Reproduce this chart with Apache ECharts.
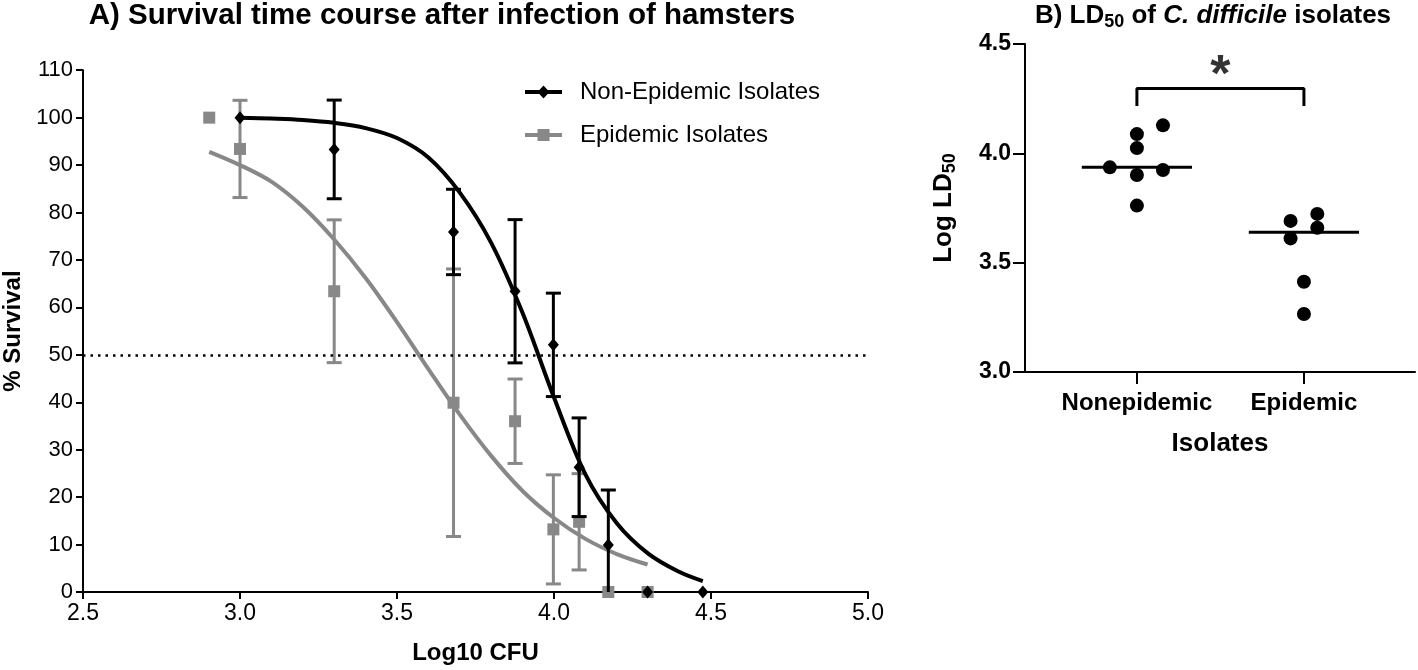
<!DOCTYPE html>
<html><head><meta charset="utf-8">
<script src="https://cdn.jsdelivr.net/npm/echarts@6/dist/echarts.min.js"></script>
<style>html,body{margin:0;padding:0;background:#fff}#c{width:1418px;height:670px}</style>
</head><body><div id="c"></div>
<script>
// ---------- Panel A: survival vs dose ----------
const nonEpiDose = [3.0, 3.3, 3.68, 3.876, 3.998, 4.08, 4.173, 4.298, 4.474];
const nonEpiSurv = [100, 93.3, 75.9, 63.4, 52.1, 26.3, 9.9, 0, 0];
const nonEpiSem  = [0, 10.4, 9.0, 15.1, 10.9, 10.4, 11.6, 0, 0];

const epiDose = [2.902, 3.0, 3.3, 3.68, 3.876, 3.998, 4.08, 4.173, 4.298];
const epiSurv = [100, 93.4, 63.4, 39.9, 36.0, 13.2, 14.8, 0, 0];
const epiSem  = [0, 10.25, 15.05, 28.2, 8.9, 11.5, 10.15, 0, 0];

// fitted curves
const nonEpiFitX = [3.0, 3.1, 3.2, 3.3, 3.4, 3.5, 3.6, 3.7, 3.8, 3.9, 4.0, 4.1, 4.2, 4.3, 4.4, 4.474];
const nonEpiFitY = [100.0, 99.8, 99.5, 98.9, 97.8, 95.7, 91.6, 84.2, 73.6, 58.8, 41.0, 24.8, 14.5, 8.1, 4.2, 2.3];
const epiFitX = [2.902, 3.0, 3.1, 3.2, 3.3, 3.4, 3.5, 3.6, 3.7, 3.8, 3.9, 4.0, 4.1, 4.2, 4.298];
const epiFitY = [92.8, 90.0, 86.5, 81.2, 74.3, 66.2, 56.9, 47.0, 37.4, 28.7, 21.3, 15.6, 11.2, 8.0, 5.8];

const refLine50 = 50;
const xTicksA = [2.5, 5.0, 0.5];   // min, max, step
const yTicksA = [0, 110, 10];

// ---------- Panel B: LD50 ----------
const groupsB = ['Nonepidemic', 'Epidemic'];
const nonEpiLD50 = [4.128, 4.088, 4.024, 3.936, 3.924, 3.901, 3.761];
const epiLD50    = [3.723, 3.691, 3.660, 3.611, 3.413, 3.265];
const mediansB   = [3.936, 3.639];
const yTicksB = [3.0, 4.5, 0.5];
const bracketX = [1, 1, 2, 2];
const bracketY = [4.216, 4.296, 4.296, 4.216];
const sigLabel = '*';

// layout-only: horizontal scatter offsets of the dot plot
const nonEpiJitter = [0.156, 0, 0, -0.162, 0.156, 0, 0];
const epiJitter    = [0.08, -0.08, 0.08, -0.08, 0, 0];

const F = 'Liberation Sans, Arial, Helvetica, sans-serif';
const BLACK = '#000000';
const GRAY = '#888888';

function errBar(color, capHalf) {
  return function (params, api) {
    const x = api.value(0), y = api.value(1), e = api.value(2);
    if (!e) return;
    const lowV = y - e;
    const top = api.coord([x, y + e]);
    const bot = api.coord([x, Math.max(0, lowV)]);
    const st = { stroke: color, lineWidth: 3 };
    const ch = [
      { type: 'line', shape: { x1: top[0], y1: top[1], x2: bot[0], y2: bot[1] }, style: st },
      { type: 'line', shape: { x1: top[0] - capHalf, y1: top[1], x2: top[0] + capHalf, y2: top[1] }, style: st }
    ];
    if (lowV >= 0) ch.push({ type: 'line', shape: { x1: bot[0] - capHalf, y1: bot[1], x2: bot[0] + capHalf, y2: bot[1] }, style: st });
    return { type: 'group', children: ch };
  };
}

const chart = echarts.init(document.getElementById('c'), null, { renderer: 'canvas' });

const subStyle = { fontSize: 18, fontWeight: 'bold', fontFamily: F, lineHeight: 18, padding: [16, 0, 0, 0], verticalAlign: 'bottom', fill: '#000' };
const mainStyle = { fontSize: 26, fontWeight: 'bold', fontFamily: F, lineHeight: 28, verticalAlign: 'top', fill: '#000' };

const option = {
  animation: false,
  backgroundColor: '#ffffff',
  textStyle: { fontFamily: F },
  graphic: [
    { type: 'text', style: { x: 442, y: 16, text: 'A) Survival time course after infection of hamsters', font: 'bold 29.5px ' + F, fill: '#000', align: 'center', verticalAlign: 'middle' } },
    { type: 'text', style: { x: 1213, y: 3, align: 'center', verticalAlign: 'top', fill: '#000',
        text: '{m|B) LD}{sub|50}{m| of }{it|C. difficile}{m| isolates}',
        rich: { m: mainStyle, it: Object.assign({}, mainStyle, { fontStyle: 'italic' }), sub: subStyle } } },
    { type: 'text', x: 945, y: 208, rotation: Math.PI / 2, style: { x: 0, y: 0, align: 'center', verticalAlign: 'middle', fill: '#000',
        text: '{m|Log LD}{sub|50}',
        rich: { m: mainStyle, sub: subStyle } } }
  ],
  legend: {
    left: 520, top: 75, orient: 'vertical', itemGap: 19,
    itemWidth: 37, itemHeight: 13, selectedMode: false,
    textStyle: { fontSize: 24, fontFamily: F, color: '#000', padding: [0, 0, 0, 13] },
    data: [
      { name: 'Non-Epidemic Isolates', icon: 'path://M0,4.5 L37,4.5 L37,8.5 L0,8.5 Z M18.5,0 L24.5,6.5 L18.5,13 L12.5,6.5 Z' },
      { name: 'Epidemic Isolates', icon: 'path://M0,4.5 L37,4.5 L37,8.5 L0,8.5 Z M12.5,0.5 L24.5,0.5 L24.5,12.5 L12.5,12.5 Z' }
    ]
  },
  grid: [
    { left: 83, right: 550, top: 70.2, bottom: 78, containLabel: false, outerBoundsMode: 'none' },
    { left: 1025, right: 3, top: 44, bottom: 298, containLabel: false, outerBoundsMode: 'none' }
  ],
  xAxis: [
    { type: 'value', gridIndex: 0, min: xTicksA[0], max: xTicksA[1], interval: xTicksA[2],
      name: 'Log10 CFU', nameLocation: 'middle', nameGap: 49,
      nameTextStyle: { fontSize: 24, fontWeight: 'bold', color: '#000', fontFamily: F },
      axisLine: { lineStyle: { color: '#000', width: 2 } },
      axisTick: { length: 7, lineStyle: { color: '#000', width: 2 } },
      axisLabel: { fontSize: 23, color: '#000', margin: 10, fontFamily: F, formatter: v => v.toFixed(1) },
      splitLine: { show: false } },
    { type: 'value', gridIndex: 1, min: 0.33, max: 2.665,
      name: 'Isolates', nameLocation: 'middle', nameGap: 59,
      nameTextStyle: { fontSize: 26, fontWeight: 'bold', color: '#000', fontFamily: F },
      axisLine: { lineStyle: { color: '#000', width: 2 } },
      axisTick: { length: 12, customValues: [1, 2], lineStyle: { color: '#000', width: 2 } },
      axisLabel: { fontSize: 24, fontWeight: 'bold', color: '#000', margin: 19, fontFamily: F,
        customValues: [1, 2], formatter: v => groupsB[Math.round(v) - 1] || '' },
      splitLine: { show: false } }
  ],
  yAxis: [
    { type: 'value', gridIndex: 0, min: yTicksA[0], max: yTicksA[1], interval: yTicksA[2],
      name: '% Survival', nameLocation: 'middle', nameGap: 56,
      nameTextStyle: { fontSize: 24, fontWeight: 'bold', color: '#000', fontFamily: F },
      axisLine: { show: true, lineStyle: { color: '#000', width: 2 } },
      axisTick: { show: true, length: 7, lineStyle: { color: '#000', width: 2 } },
      axisLabel: { fontSize: 22, color: '#000', margin: 10, fontFamily: F },
      splitLine: { show: false } },
    { type: 'value', gridIndex: 1, min: yTicksB[0], max: yTicksB[1], interval: yTicksB[2],
      axisLine: { show: true, lineStyle: { color: '#000', width: 2 } },
      axisTick: { show: true, length: 12, lineStyle: { color: '#000', width: 2 } },
      axisLabel: { fontSize: 23, fontWeight: 'bold', color: '#000', margin: 14, fontFamily: F, formatter: v => v.toFixed(1) },
      splitLine: { show: false } }
  ],
  series: [
    { type: 'line', xAxisIndex: 0, yAxisIndex: 0, data: epiFitX.map((x, i) => [x, epiFitY[i]]),
      smooth: 0.35, showSymbol: false, lineStyle: { color: GRAY, width: 4 }, z: 2, silent: true },
    { type: 'custom', xAxisIndex: 0, yAxisIndex: 0, data: epiDose.map((x, i) => [x, epiSurv[i], epiSem[i]]),
      renderItem: errBar(GRAY, 7.5), z: 3, silent: true },
    { type: 'scatter', name: 'Epidemic Isolates', xAxisIndex: 0, yAxisIndex: 0,
      data: epiDose.map((x, i) => [x, epiSurv[i]]), symbol: 'rect', symbolSize: 12,
      itemStyle: { color: GRAY, opacity: 1 }, z: 4, clip: false },
    { type: 'line', xAxisIndex: 0, yAxisIndex: 0, data: nonEpiFitX.map((x, i) => [x, nonEpiFitY[i]]),
      smooth: 0.35, showSymbol: false, lineStyle: { color: BLACK, width: 4 }, z: 5, silent: true,
      markLine: { silent: true, symbol: 'none', label: { show: false },
        lineStyle: { color: '#000', width: 2.5, type: [2.5, 5] },
        data: [{ yAxis: refLine50 }] } },
    { type: 'custom', xAxisIndex: 0, yAxisIndex: 0, data: nonEpiDose.map((x, i) => [x, nonEpiSurv[i], nonEpiSem[i]]),
      renderItem: errBar(BLACK, 7.5), z: 6, silent: true },
    { type: 'scatter', name: 'Non-Epidemic Isolates', xAxisIndex: 0, yAxisIndex: 0,
      data: nonEpiDose.map((x, i) => [x, nonEpiSurv[i]]), symbol: 'diamond', symbolSize: [11, 13],
      itemStyle: { color: BLACK, opacity: 1 }, z: 7, clip: false },

    // Panel B
    { type: 'scatter', xAxisIndex: 1, yAxisIndex: 1,
      data: nonEpiLD50.map((v, i) => [1 + nonEpiJitter[i], v]), symbol: 'circle', symbolSize: 14,
      itemStyle: { color: BLACK, opacity: 1 } },
    { type: 'scatter', xAxisIndex: 1, yAxisIndex: 1,
      data: epiLD50.map((v, i) => [2 + epiJitter[i], v]), symbol: 'circle', symbolSize: 14,
      itemStyle: { color: BLACK, opacity: 1 } },
    { type: 'custom', xAxisIndex: 1, yAxisIndex: 1, data: mediansB.map((m, i) => [i + 1, m]), silent: true,
      renderItem: function (params, api) {
        const c = api.value(0), m = api.value(1);
        const a = api.coord([c - 0.33, m]), b = api.coord([c + 0.33, m]);
        return { type: 'line', shape: { x1: a[0], y1: a[1], x2: b[0], y2: b[1] }, style: { stroke: '#000', lineWidth: 3 } };
      } },
    { type: 'line', xAxisIndex: 1, yAxisIndex: 1, data: bracketX.map((x, i) => [x, bracketY[i]]),
      showSymbol: false, lineStyle: { color: '#000', width: 3 }, silent: true },
    { type: 'scatter', xAxisIndex: 1, yAxisIndex: 1, data: [[1.5, 4.40]], symbolSize: 0, silent: true,
      label: { show: true, position: 'inside', formatter: sigLabel, fontSize: 52, fontWeight: 'bold', color: '#000', fontFamily: F, offset: [0, 11] } }
  ]
};
chart.setOption(option);
</script>
</body></html>
